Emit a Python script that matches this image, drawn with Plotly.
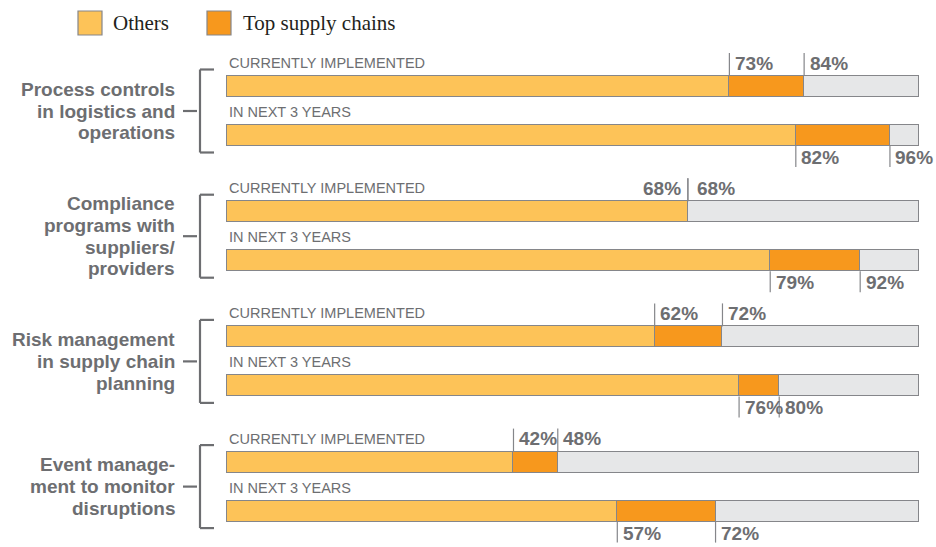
import plotly.graph_objects as go

# ---------------- data ----------------
groups = [
    ["Process controls", "in logistics and", "operations"],
    ["Compliance", "programs with", "suppliers/", "providers"],
    ["Risk management", "in supply chain", "planning"],
    ["Event manage-", "ment to monitor", "disruptions"],
]
row_labels = ["CURRENTLY IMPLEMENTED", "IN NEXT 3 YEARS"]
series_names = ["Others", "Top supply chains"]
# printed labels (%), per group: [currently, next 3 years]
others_label = [[73, 82], [68, 79], [62, 76], [42, 57]]
top_label = [[84, 96], [68, 92], [72, 80], [48, 72]]
# bar ends as drawn in the picture (% of full bar), per group
others_bar = [[72.6, 82.2], [66.6, 78.5], [61.8, 74.0], [41.4, 56.4]]
top_bar = [[83.4, 95.8], [66.6, 91.5], [71.6, 79.8], [47.8, 70.6]]

# ---------------- style ----------------
C_OTHERS = "#FDC358"
C_TOP = "#F7981D"
C_REST = "#E6E7E8"
C_EDGE = "#85868a"
C_TEXT = "#6d6e71"
SANS = "Liberation Sans, Arial, sans-serif"
SERIF = "Liberation Serif, Times New Roman, serif"

W, H = 936, 547
X0_PX, X100_PX = 227, 919
SCALE = (X100_PX - X0_PX) / 100.0


def X(px):
    return (px - X0_PX) / SCALE


BAR_H = 21
Y_FIRST = 86.5
GROUP_GAP = 125.2
ROW_GAP = 49.0


def ypos(g, r):
    return Y_FIRST + g * GROUP_GAP + r * ROW_GAP


ys, xo, xt, xr = [], [], [], []
for g in range(len(groups)):
    for r in range(2):
        ys.append(ypos(g, r))
        xo.append(others_bar[g][r])
        xt.append(top_bar[g][r] - others_bar[g][r])
        xr.append(100 - top_bar[g][r])

fig = go.Figure()
for vals, col, name in [(xo, C_OTHERS, series_names[0]), (xt, C_TOP, series_names[1]), (xr, C_REST, "Rest")]:
    fig.add_trace(go.Bar(
        x=vals, y=ys, orientation="h", width=BAR_H,
        marker=dict(color=col, line=dict(color=C_EDGE, width=1.5)),
        name=name, showlegend=False, hoverinfo="skip",
    ))

shapes = []
annotations = []
for g, lines in enumerate(groups):
    y1, y2 = ypos(g, 0), ypos(g, 1)
    mid = (y1 + y2) / 2
    top_b, bot_b = y1 - 17, y2 + 17
    lc = dict(color=C_TEXT, width=2.2)
    # bracket
    shapes.append(dict(type="line", x0=X(200), x1=X(200), y0=top_b, y1=bot_b, line=lc))
    shapes.append(dict(type="line", x0=X(200), x1=X(214), y0=top_b, y1=top_b, line=lc))
    shapes.append(dict(type="line", x0=X(200), x1=X(214), y0=bot_b, y1=bot_b, line=lc))
    shapes.append(dict(type="line", x0=X(183), x1=X(197), y0=mid, y1=mid, line=lc))
    # group label
    n = len(lines)
    lh = 21.8
    for i, t in enumerate(lines):
        annotations.append(dict(
            x=X(177), y=mid + (i - (n - 1) / 2) * lh, text=t, showarrow=False,
            xanchor="right", yanchor="middle",
            font=dict(family=SANS, size=19, color=C_TEXT, weight="bold"),
        ))
    for r in range(2):
        yc = ypos(g, r)
        ytop, ybot = yc - BAR_H / 2, yc + BAR_H / 2
        # row label
        annotations.append(dict(
            x=X(227), y=ytop - 13, text=row_labels[r], showarrow=False,
            xanchor="left", yanchor="middle",
            font=dict(family=SANS, size=14.5, color=C_TEXT),
        ))
        b1, b2 = others_bar[g][r], top_bar[g][r]
        l1, l2 = others_label[g][r], top_label[g][r]
        if r == 0:
            ya, yb, ylab = ytop - 23, ytop, ytop - 13
        else:
            ya, yb, ylab = ybot, ybot + 21, ybot + 11.5
        same = b1 == b2
        for k, (b, lab) in enumerate([(b1, l1), (b2, l2)]):
            shapes.append(dict(type="line", x0=b, x1=b, y0=ya, y1=yb,
                               line=dict(color=C_EDGE, width=1.2)))
            if k == 0 and same:
                xa, xanc = b - 5 / SCALE, "right"
            elif same:
                xa, xanc = b + 7 / SCALE, "left"
            else:
                xa, xanc = b + 3.5 / SCALE, "left"
            annotations.append(dict(
                x=xa, y=ylab, text=f"{lab}%", showarrow=False,
                xanchor=xanc, yanchor="middle",
                font=dict(family=SANS, size=19, color=C_TEXT, weight="bold"),
            ))

# legend (manual)
for (sx, tx, col, name) in [(78, 111, C_OTHERS, series_names[0]), (207, 241, C_TOP, series_names[1])]:
    shapes.append(dict(type="rect", x0=X(sx), x1=X(sx + 24), y0=11, y1=35,
                       fillcolor=col, line=dict(color=C_EDGE, width=1.2)))
    annotations.append(dict(
        x=X(tx), y=23, text=name, showarrow=False, xanchor="left", yanchor="middle",
        font=dict(family=SERIF, size=21, color="#231f20"),
    ))

fig.update_layout(
    width=W, height=H, margin=dict(l=0, r=0, t=0, b=0),
    paper_bgcolor="white", plot_bgcolor="white",
    barmode="stack", bargap=0,
    xaxis=dict(range=[X(0), X(W)], visible=False, fixedrange=True),
    yaxis=dict(range=[H, 0], visible=False, fixedrange=True),
    shapes=shapes, annotations=annotations,
)

fig.write_html("out.html", config={"displayModeBar": False},
               post_script="document.body.style.margin='0px';")
